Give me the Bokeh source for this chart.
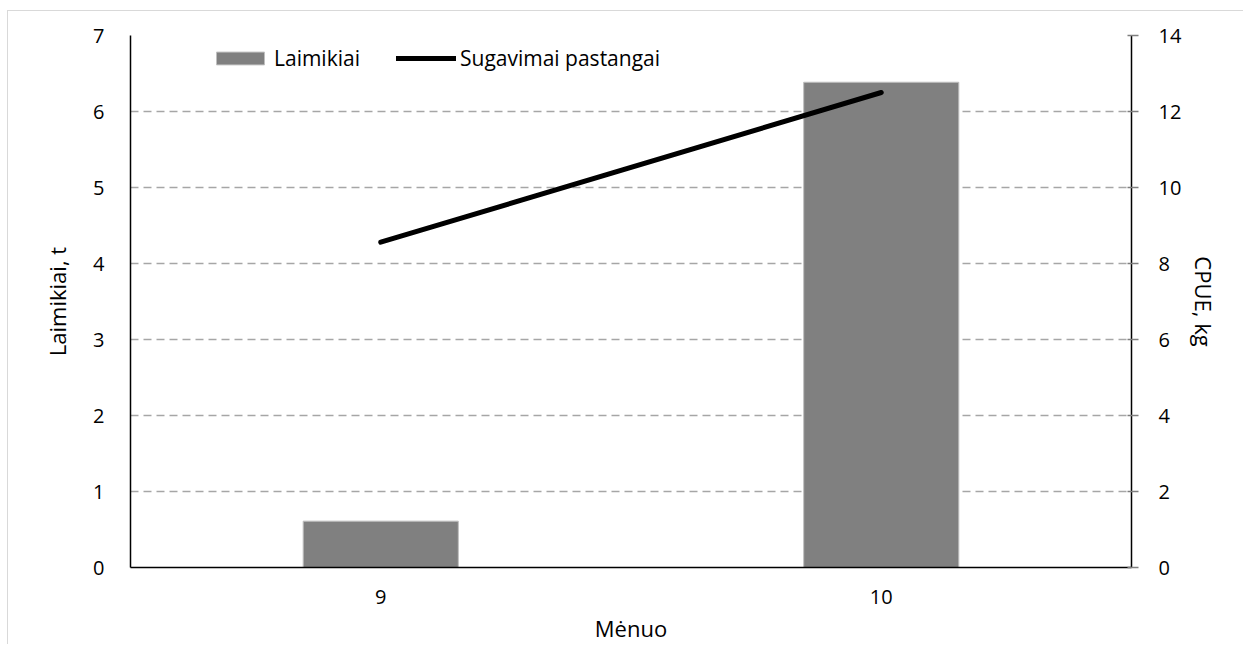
from bokeh.plotting import figure
from bokeh.models import (Range1d, FactorRange, LinearAxis, FixedTicker, Legend, LegendItem,
                          ColumnDataSource, CategoricalAxis)
from bokeh.embed import file_html
from bokeh.resources import INLINE

months = ["9", "10"]
catch_t = [0.61, 6.385]
cpue_kg = [8.56, 12.5]
left_ticks = [0, 1, 2, 3, 4, 5, 6, 7]
right_ticks = [0, 2, 4, 6, 8, 10, 12, 14]

FONT = "Open Sans"
FS = "20px"
FS_LABEL = "22px"
FS_LEG = "21px"

src = ColumnDataSource(dict(m=months, c=catch_t, e=cpue_kg))

p = figure(width=1236, height=634, x_range=FactorRange(*months, range_padding=0),
           y_range=Range1d(0, 7), output_backend="svg", toolbar_location=None,
           x_axis_location=None, y_axis_location=None,
           min_border_left=122, min_border_right=113, min_border_top=24, min_border_bottom=78)
p.styles = {"margin-left": "7px", "margin-top": "10px",
            "border-top": "1px solid #d9d9d9", "border-left": "1px solid #d9d9d9"}
p.extra_y_ranges = {"right": Range1d(0, 14)}
p.outline_line_color = None
p.background_fill_color = "white"
p.border_fill_color = "white"

# grid
p.xgrid.visible = False
p.ygrid.ticker = FixedTicker(ticks=left_ticks)
p.ygrid.grid_line_color = "#a6a6a6"
p.ygrid.grid_line_dash = "8 5"
p.ygrid.grid_line_width = 1.5

bars = p.vbar(x="m", top="c", width=0.31, source=src, fill_color="#808080",
              line_color="#bfbfbf", line_width=1)
line = p.line(x="m", y="e", source=src, y_range_name="right", line_color="black",
              line_width=5, line_cap="round", line_join="round")

def style(ax):
    ax.axis_line_color = "black"
    ax.axis_line_width = 1.5
    ax.major_label_text_font = FONT
    ax.major_label_text_font_size = FS
    ax.major_label_text_color = "black"
    ax.axis_label_text_font = FONT
    ax.axis_label_text_font_size = FS_LABEL
    ax.axis_label_text_font_style = "normal"
    ax.axis_label_text_color = "black"
    ax.minor_tick_line_color = None

xa = CategoricalAxis(axis_label="Mėnuo")
style(xa)
xa.major_tick_line_color = None
xa.major_label_standoff = 16
xa.axis_label_standoff = 6
p.add_layout(xa, "below")

ya = LinearAxis(axis_label="Laimikiai, t", ticker=FixedTicker(ticks=left_ticks))
style(ya)
ya.major_tick_line_color = None
ya.major_label_standoff = 20
ya.axis_label_standoff = 18
p.add_layout(ya, "left")

ra = LinearAxis(axis_label="CPUE, kg", y_range_name="right", ticker=FixedTicker(ticks=right_ticks))
style(ra)
ra.major_tick_line_color = "#7f7f7f"
ra.major_tick_line_width = 1.5
ra.major_tick_in = 4
ra.major_tick_out = 7
ra.major_label_standoff = 20
ra.axis_label_standoff = 5
p.add_layout(ra, "right")

legend = Legend(items=[LegendItem(label="Laimikiai", renderers=[bars]),
                       LegendItem(label="Sugavimai pastangai", renderers=[line])],
                orientation="horizontal", location=(80, 495),
                glyph_width=60, glyph_height=16, label_height=26, label_standoff=4, spacing=36,
                padding=0, margin=0, border_line_color=None, background_fill_alpha=0,
                label_text_font=FONT, label_text_font_size=FS_LEG, label_text_color="black")
p.add_layout(legend)

open("out.html", "w").write(file_html(p, INLINE))
